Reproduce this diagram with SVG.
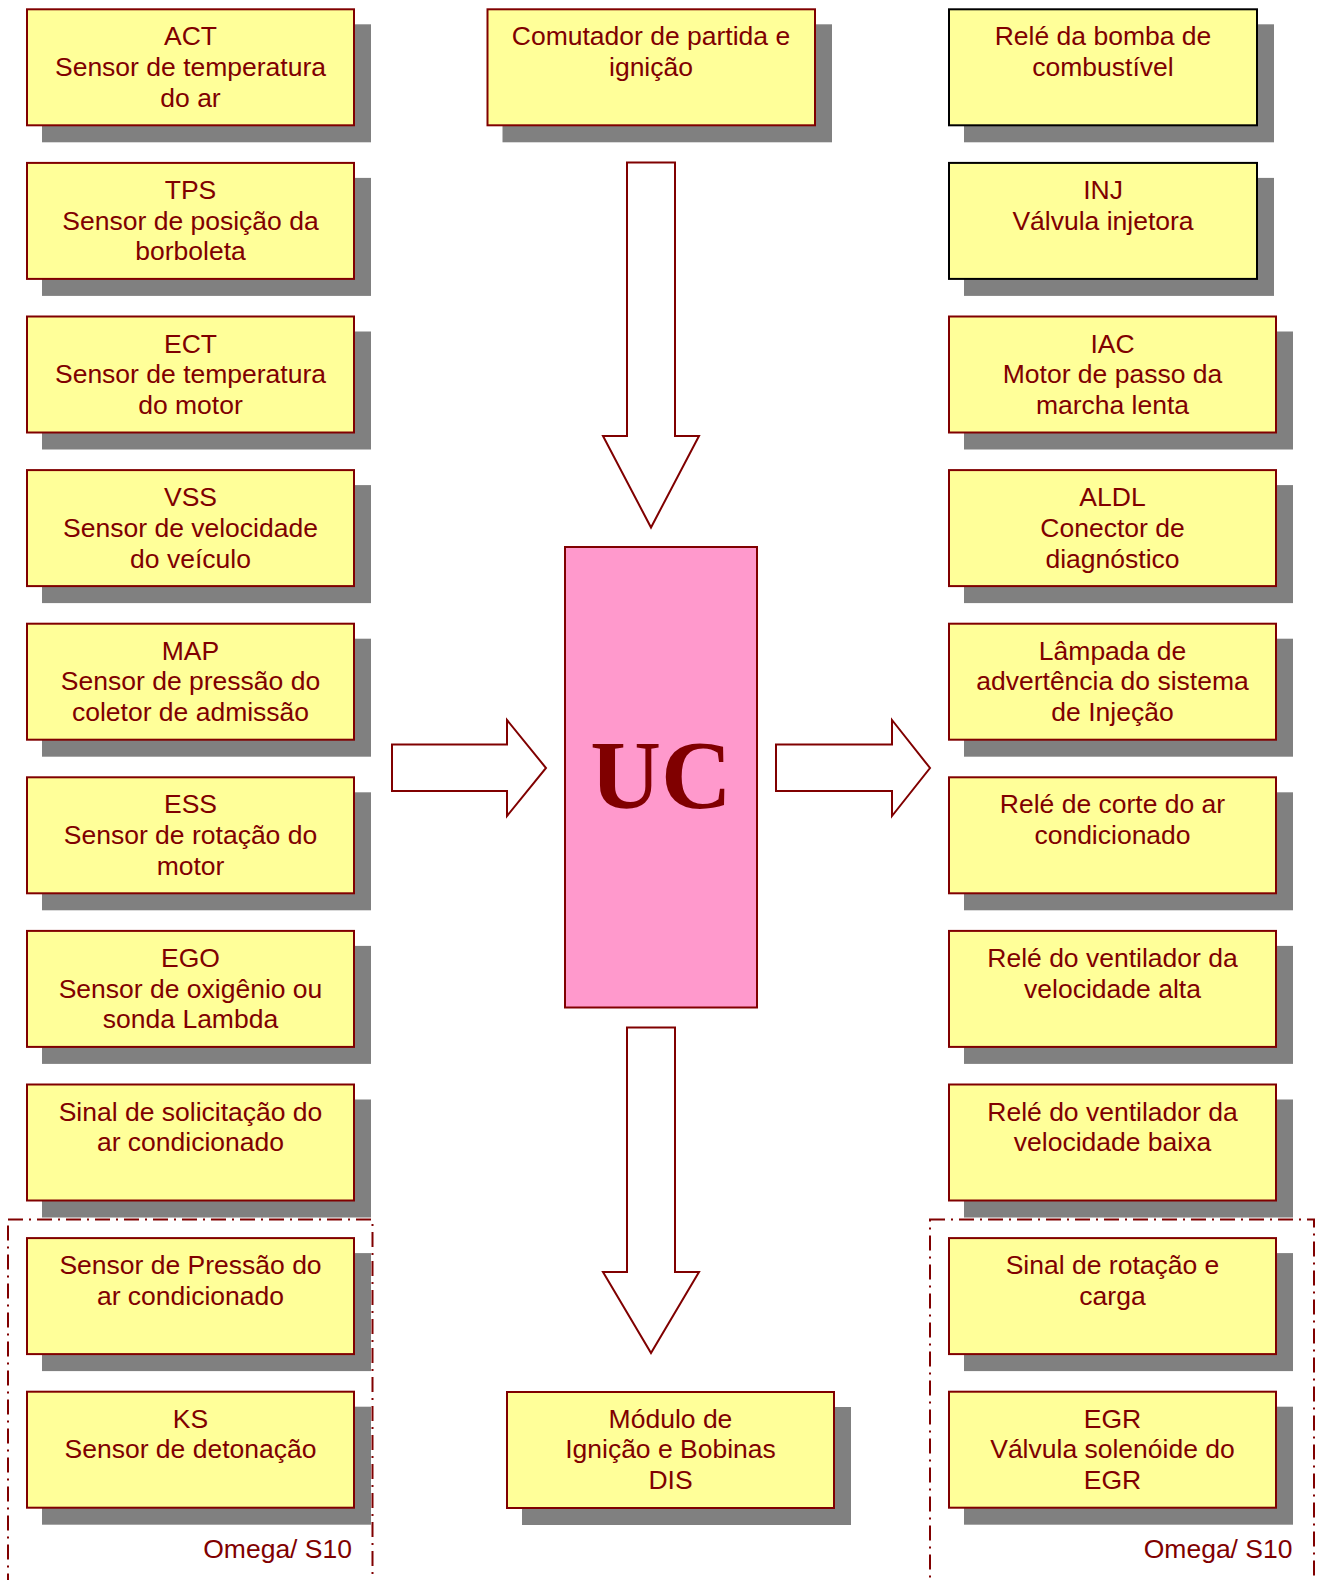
<svg xmlns="http://www.w3.org/2000/svg" width="1319" height="1580" viewBox="0 0 1319 1580">
<style>
.sh{fill:#808080;}
.bx{fill:#FFFF99;stroke:#800000;stroke-width:2;}
.bk{fill:#FFFF99;stroke:#000000;stroke-width:2;}
.t{font-family:"Liberation Sans",Arial,sans-serif;font-size:26.5px;fill:#800000;text-anchor:middle;}
.ar{fill:#FFFFFF;stroke:#800000;stroke-width:2;stroke-linejoin:miter;}
.dash{fill:none;stroke:#800000;stroke-width:2;stroke-dasharray:15 6 2 6;}
</style>
<rect width="1319" height="1580" fill="#FFFFFF"/>
<g id="groups">
<rect class="dash" x="8" y="1219.5" width="364.5" height="400"/>
<rect class="dash" x="930" y="1219.5" width="384" height="400"/>
<text class="t" x="352" y="1558" style="text-anchor:end">Omega/ S10</text>
<text class="t" x="1292.5" y="1558" style="text-anchor:end">Omega/ S10</text>
</g>
<g id="connectors">
<polygon class="ar" points="627,162.5 675,162.5 675,436 699,436 651,527.5 603,436 627,436"/>
<polygon class="ar" points="627,1027.5 675,1027.5 675,1272 699,1272 651,1353 603,1272 627,1272"/>
<polygon class="ar" points="392,744.5 507,744.5 507,720 546,768 507,816 507,791 392,791"/>
<polygon class="ar" points="776,744.5 892,744.5 892,720 930,768 892,816 892,791 776,791"/>
</g>
<g id="uc">
<rect x="565" y="547" width="192" height="460.5" fill="#FF99CC" stroke="#800000" stroke-width="2"/>
<text x="661" y="808" font-family="'Liberation Serif','Times New Roman',serif" font-weight="bold" font-size="98" fill="#800000" text-anchor="middle">UC</text>
</g>
<g id="comutador">
<rect class="sh" x="502.5" y="24.3" width="329.5" height="118"/>
<rect class="bx" x="487.5" y="9.3" width="327.5" height="116"/>
<text class="t" x="651" y="45.3">Comutador de partida e</text>
<text class="t" x="651" y="76">ignição</text>
</g>
<g id="modulo">
<rect class="sh" x="522" y="1407" width="329" height="118"/>
<rect class="bx" x="507" y="1392" width="327" height="116"/>
<text class="t" x="670.5" y="1427.5">Módulo de</text>
<text class="t" x="670.5" y="1458.2">Ignição e Bobinas</text>
<text class="t" x="670.5" y="1488.9">DIS</text>
</g>
<g id="act">
<rect class="sh" x="42" y="24.3" width="329" height="118"/>
<rect class="bx" x="27" y="9.3" width="327" height="116"/>
<text class="t" x="190.5" y="45.3">ACT</text>
<text class="t" x="190.5" y="76">Sensor de temperatura</text>
<text class="t" x="190.5" y="106.7">do ar</text>
</g>
<g id="tps">
<rect class="sh" x="42" y="177.9" width="329" height="118"/>
<rect class="bx" x="27" y="162.9" width="327" height="116"/>
<text class="t" x="190.5" y="198.9">TPS</text>
<text class="t" x="190.5" y="229.6">Sensor de posição da</text>
<text class="t" x="190.5" y="260.3">borboleta</text>
</g>
<g id="ect">
<rect class="sh" x="42" y="331.5" width="329" height="118"/>
<rect class="bx" x="27" y="316.5" width="327" height="116"/>
<text class="t" x="190.5" y="352.5">ECT</text>
<text class="t" x="190.5" y="383.2">Sensor de temperatura</text>
<text class="t" x="190.5" y="413.9">do motor</text>
</g>
<g id="vss">
<rect class="sh" x="42" y="485.1" width="329" height="118"/>
<rect class="bx" x="27" y="470.1" width="327" height="116"/>
<text class="t" x="190.5" y="506.1">VSS</text>
<text class="t" x="190.5" y="536.8">Sensor de velocidade</text>
<text class="t" x="190.5" y="567.5">do veículo</text>
</g>
<g id="map">
<rect class="sh" x="42" y="638.7" width="329" height="118"/>
<rect class="bx" x="27" y="623.7" width="327" height="116"/>
<text class="t" x="190.5" y="659.7">MAP</text>
<text class="t" x="190.5" y="690.4">Sensor de pressão do</text>
<text class="t" x="190.5" y="721.1">coletor de admissão</text>
</g>
<g id="ess">
<rect class="sh" x="42" y="792.3" width="329" height="118"/>
<rect class="bx" x="27" y="777.3" width="327" height="116"/>
<text class="t" x="190.5" y="813.3">ESS</text>
<text class="t" x="190.5" y="844">Sensor de rotação do</text>
<text class="t" x="190.5" y="874.7">motor</text>
</g>
<g id="ego">
<rect class="sh" x="42" y="945.9" width="329" height="118"/>
<rect class="bx" x="27" y="930.9" width="327" height="116"/>
<text class="t" x="190.5" y="966.9">EGO</text>
<text class="t" x="190.5" y="997.6">Sensor de oxigênio ou</text>
<text class="t" x="190.5" y="1028.3">sonda Lambda</text>
</g>
<g id="sinal-ac">
<rect class="sh" x="42" y="1099.5" width="329" height="118"/>
<rect class="bx" x="27" y="1084.5" width="327" height="116"/>
<text class="t" x="190.5" y="1120.5">Sinal de solicitação do</text>
<text class="t" x="190.5" y="1151.2">ar condicionado</text>
</g>
<g id="pressao-ac">
<rect class="sh" x="42" y="1253.1" width="329" height="118"/>
<rect class="bx" x="27" y="1238.1" width="327" height="116"/>
<text class="t" x="190.5" y="1274.1">Sensor de Pressão do</text>
<text class="t" x="190.5" y="1304.8">ar condicionado</text>
</g>
<g id="ks">
<rect class="sh" x="42" y="1406.7" width="329" height="118"/>
<rect class="bx" x="27" y="1391.7" width="327" height="116"/>
<text class="t" x="190.5" y="1427.7">KS</text>
<text class="t" x="190.5" y="1458.4">Sensor de detonação</text>
</g>
<g id="rele-bomba">
<rect class="sh" x="964" y="24.3" width="310" height="118"/>
<rect class="bk" x="949" y="9.3" width="308" height="116"/>
<text class="t" x="1103" y="45.3">Relé da bomba de</text>
<text class="t" x="1103" y="76">combustível</text>
</g>
<g id="inj">
<rect class="sh" x="964" y="177.9" width="310" height="118"/>
<rect class="bk" x="949" y="162.9" width="308" height="116"/>
<text class="t" x="1103" y="198.9">INJ</text>
<text class="t" x="1103" y="229.6">Válvula injetora</text>
</g>
<g id="iac">
<rect class="sh" x="964" y="331.5" width="329" height="118"/>
<rect class="bx" x="949" y="316.5" width="327" height="116"/>
<text class="t" x="1112.5" y="352.5">IAC</text>
<text class="t" x="1112.5" y="383.2">Motor de passo da</text>
<text class="t" x="1112.5" y="413.9">marcha lenta</text>
</g>
<g id="aldl">
<rect class="sh" x="964" y="485.1" width="329" height="118"/>
<rect class="bx" x="949" y="470.1" width="327" height="116"/>
<text class="t" x="1112.5" y="506.1">ALDL</text>
<text class="t" x="1112.5" y="536.8">Conector de</text>
<text class="t" x="1112.5" y="567.5">diagnóstico</text>
</g>
<g id="lampada">
<rect class="sh" x="964" y="638.7" width="329" height="118"/>
<rect class="bx" x="949" y="623.7" width="327" height="116"/>
<text class="t" x="1112.5" y="659.7">Lâmpada de</text>
<text class="t" x="1112.5" y="690.4">advertência do sistema</text>
<text class="t" x="1112.5" y="721.1">de Injeção</text>
</g>
<g id="rele-ac">
<rect class="sh" x="964" y="792.3" width="329" height="118"/>
<rect class="bx" x="949" y="777.3" width="327" height="116"/>
<text class="t" x="1112.5" y="813.3">Relé de corte do ar</text>
<text class="t" x="1112.5" y="844">condicionado</text>
</g>
<g id="rele-alta">
<rect class="sh" x="964" y="945.9" width="329" height="118"/>
<rect class="bx" x="949" y="930.9" width="327" height="116"/>
<text class="t" x="1112.5" y="966.9">Relé do ventilador da</text>
<text class="t" x="1112.5" y="997.6">velocidade alta</text>
</g>
<g id="rele-baixa">
<rect class="sh" x="964" y="1099.5" width="329" height="118"/>
<rect class="bx" x="949" y="1084.5" width="327" height="116"/>
<text class="t" x="1112.5" y="1120.5">Relé do ventilador da</text>
<text class="t" x="1112.5" y="1151.2">velocidade baixa</text>
</g>
<g id="sinal-rotacao">
<rect class="sh" x="964" y="1253.1" width="329" height="118"/>
<rect class="bx" x="949" y="1238.1" width="327" height="116"/>
<text class="t" x="1112.5" y="1274.1">Sinal de rotação e</text>
<text class="t" x="1112.5" y="1304.8">carga</text>
</g>
<g id="egr">
<rect class="sh" x="964" y="1406.7" width="329" height="118"/>
<rect class="bx" x="949" y="1391.7" width="327" height="116"/>
<text class="t" x="1112.5" y="1427.7">EGR</text>
<text class="t" x="1112.5" y="1458.4">Válvula solenóide do</text>
<text class="t" x="1112.5" y="1489.1">EGR</text>
</g>
</svg>
